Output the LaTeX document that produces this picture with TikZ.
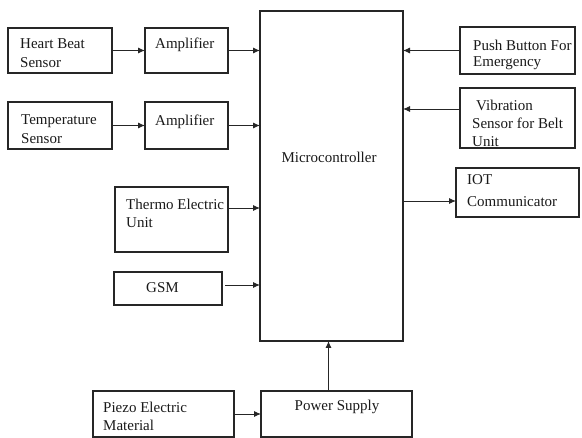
\documentclass[tikz,border=0pt]{standalone}
\usepackage{fontspec}
\setmainfont{Liberation Serif}
\usetikzlibrary{arrows.meta,calc}
\begin{document}
\begin{tikzpicture}[x=1pt,y=-1pt,
  box/.style={draw=black!85,line width=1.3pt,anchor=north west,inner sep=0pt,outer sep=0pt},
  txt/.style={anchor=west,inner sep=0pt,font=\fontsize{15}{19}\selectfont,text=black!90},
  arr/.style={draw=black!85,line width=0.9pt,-{Latex[length=7pt,width=6pt]}}]
\useasboundingbox (0,0) rectangle (582,438);
% boxes
\node[box,minimum width=104pt,minimum height=45pt] (hb) at (8,28) {};
\node[box,minimum width=83pt,minimum height=45pt] (a1) at (145,28) {};
\node[box,minimum width=104pt,minimum height=47pt] (ts) at (8,102) {};
\node[box,minimum width=83pt,minimum height=47pt] (a2) at (145,102) {};
\node[box,minimum width=113pt,minimum height=65pt] (th) at (115,187) {};
\node[box,minimum width=108pt,minimum height=33pt] (gsm) at (114,272) {};
\node[box,minimum width=143pt,minimum height=330pt] (mc) at (260,11) {};
\node[box,minimum width=115pt,minimum height=47pt] (pb) at (460,27) {};
\node[box,minimum width=115pt,minimum height=60pt] (vib) at (460,88) {};
\node[box,minimum width=123pt,minimum height=49pt] (iot) at (456,168) {};
\node[box,minimum width=141pt,minimum height=46pt] (pz) at (93,391) {};
\node[box,minimum width=151pt,minimum height=46pt] (ps) at (261,391) {};
% texts
\node[txt] (hbt1) at (20,44) {Heart Beat};
\node[txt] (hbt2) at (20,63) {Sensor};
\node[txt] (a1t) at (155,45) {Amplifier};
\node[txt] (tst1) at (21,121) {Temperature};
\node[txt] (tst2) at (21,139) {Sensor};
\node[txt] (a2t) at (155,122) {Amplifier};
\node[txt] (tht1) at (126,204) {Thermo Electric};
\node[txt] (tht2) at (126,223) {Unit};
\node[txt] (gsmt) at (146,288) {GSM};
\node[txt,anchor=center] (mct) at (329,157) {Microcontroller};
\node[txt] (pbt1) at (473,45) {Push Button For};
\node[txt] (pbt2) at (473,63) {Emergency};
\node[txt] (vibt1) at (476,105) {Vibration};
\node[txt] (vibt2) at (472,123) {Sensor for Belt};
\node[txt] (vibt3) at (472,142) {Unit};
\node[txt] (iott1) at (467,180) {IOT};
\node[txt] (iott2) at (467,202) {Communicator};
\node[txt] (pzt1) at (103,407) {Piezo Electric};
\node[txt] (pzt2) at (103,425) {Material};
\node[txt,anchor=center] (pst) at (337,407) {Power Supply};
% connectors
\draw[arr] (hb.east) -- (a1.west);
\draw[arr] (a1.east) -- (a1.east -| mc.west);
\draw[arr] (ts.east) -- (a2.west);
\draw[arr] (a2.east) -- (a2.east -| mc.west);
\draw[arr] ([yshift=11.5pt]th.east) -- ([yshift=11.5pt]th.east -| mc.west);
\draw[arr] ([xshift=3pt,yshift=3.5pt]gsm.east) -- ([yshift=3.5pt]gsm.east -| mc.west);
\draw[arr] (pb.west) -- (pb.west -| mc.east);
\draw[arr] ([yshift=9pt]vib.west) -- ([yshift=9pt]vib.west -| mc.east);
\draw[arr] ([yshift=-8.5pt]iot.west -| mc.east) -- ([yshift=-8.5pt]iot.west);
\draw[arr] (pz.east) -- (ps.west);
\draw[arr] ([xshift=-3pt]mc.south |- ps.north) -- ([xshift=-3pt]mc.south);
\end{tikzpicture}
\end{document}
